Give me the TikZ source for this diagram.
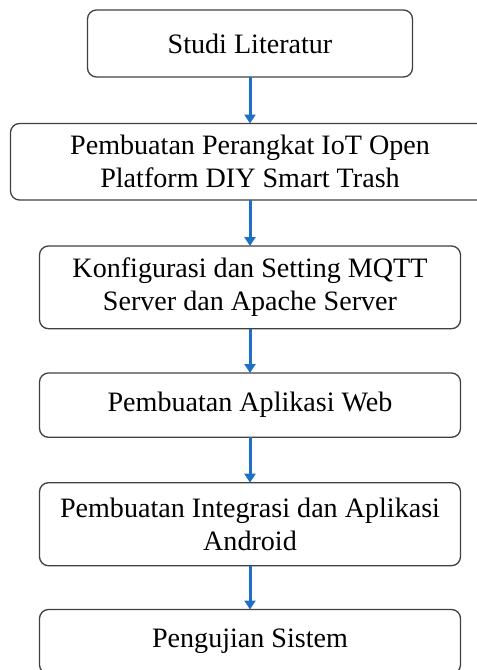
\documentclass[tikz,border=0pt]{standalone}
\usepackage{fontspec}
\setmainfont{Liberation Serif}
\usetikzlibrary{positioning, arrows.meta}
\definecolor{flowblue}{RGB}{30,112,196}
\tikzset{
    stage/.style={
        rectangle,
        rounded corners=9bp,
        draw=black!75,
        line width=1.3bp,
        align=center,
        inner sep=0pt,
        outer sep=0pt,
        minimum width=421bp,
        font=\fontsize{28.2}{33}\selectfont,
    },
    flow/.style={
        draw=flowblue,
        line width=3bp,
        -{Triangle[width=11bp,length=9bp]},
    },
}

\begin{document}
\begin{tikzpicture}[node distance=45bp]
      \path[use as bounding box, clip] (0,0) rectangle (477bp,-670bp);
      \node [stage, minimum width=325bp, minimum height=67bp] (studi) at (250bp,-43.5bp) {Studi Literatur};
      \node [stage, minimum width=479bp, minimum height=76.5bp] (perangkat) [below=46.5bp of studi] {Pembuatan Perangkat IoT Open\\Platform DIY Smart Trash};
      \node [stage, minimum height=82.7bp] (server) [below=46bp of perangkat] {Konfigurasi dan Setting MQTT\\Server dan Apache Server};
      \node [stage, minimum height=64.3bp] (web) [below=44.3bp of server] {Pembuatan Aplikasi Web};
      \node [stage, minimum height=83bp] (android) [below=45.4bp of web] {Pembuatan Integrasi dan Aplikasi\\Android};
      \node [stage, minimum height=64.3bp] (uji) [below=43.8bp of android] {Pengujian Sistem};

      \draw [flow] (studi) -- (perangkat);
      \draw [flow] (perangkat) -- (server);
      \draw [flow] (server) -- (web);
      \draw [flow] (web) -- (android);
      \draw [flow] (android) -- (uji);
\end{tikzpicture}
\end{document}
